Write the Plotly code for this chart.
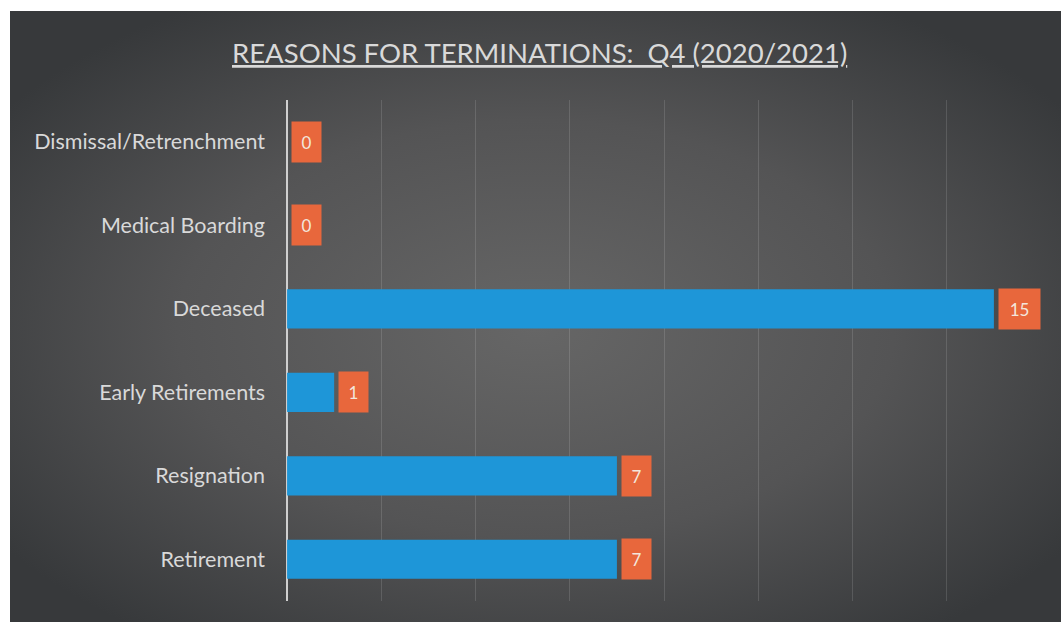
import base64
import plotly.graph_objects as go

categories = ["Dismissal/Retrenchment", "Medical Boarding", "Deceased",
              "Early Retirements", "Resignation", "Retirement"]
values = [0, 0, 15, 1, 7, 7]
x_ticks = [0, 2, 4, 6, 8, 10, 12, 14, 16]
title_text = "REASONS FOR TERMINATIONS:\u00a0 Q4 (2020/2021)"

FONT = "Lato"
BAR = "#1e96d8"
LABEL_BG = "#e8673c"
TEXT = "#d9d9d9"

svg = ("<svg xmlns='http://www.w3.org/2000/svg' width='1051' height='611' preserveAspectRatio='none'>"
       "<defs><radialGradient id='g' cx='50%' cy='52%' r='62%'>"
       "<stop offset='0' stop-color='#666666'/>"
       "<stop offset='0.55' stop-color='#545455'/>"
       "<stop offset='1' stop-color='#37393b'/>"
       "</radialGradient></defs>"
       "<rect width='1051' height='611' fill='url(#g)'/></svg>")
bg_src = "data:image/svg+xml;base64," + base64.b64encode(svg.encode()).decode()

fig = go.Figure()
fig.add_trace(go.Bar(
    x=values, y=categories, orientation="h",
    marker=dict(color=BAR, line=dict(width=0)),
    width=0.47, hoverinfo="x+y",
))

for c, v in zip(categories, values):
    s = str(v)
    fig.add_annotation(
        x=v, y=c, xref="x", yref="y", text=s, showarrow=False,
        xanchor="left", xshift=4, bgcolor=LABEL_BG,
        width=12 * len(s) + 15, height=38,
        font=dict(family=FONT, size=17, color="#f3e6dc"),
    )

fig.add_annotation(
    x=0.504, y=(622 - 52) / 611, xref="paper", yref="paper",
    text="<u>" + title_text + "</u>",
    showarrow=False, xanchor="center", yanchor="middle",
    font=dict(family=FONT, size=27.5, color=TEXT),
)

fig.update_layout(
    width=1061, height=622,
    margin=dict(l=10, r=0, t=11, b=0),
    paper_bgcolor="white",
    plot_bgcolor="rgba(0,0,0,0)",
    showlegend=False,
    images=[dict(source=bg_src, xref="paper", yref="paper", x=0, y=1,
                 sizex=1, sizey=1, xanchor="left", yanchor="top",
                 sizing="stretch", layer="below")],
    xaxis=dict(domain=[0.2636, 0.981], range=[0, 16], tickvals=x_ticks,
               showticklabels=False, showgrid=True,
               gridcolor="rgba(255,255,255,0.13)", gridwidth=1,
               zeroline=True, zerolinecolor="#cfcfcf", zerolinewidth=2,
               fixedrange=True),
    yaxis=dict(domain=[0.0344, 0.854], categoryorder="array",
               categoryarray=categories[::-1], showgrid=False,
               tickfont=dict(family=FONT, size=21.5, color=TEXT),
               ticklabelstandoff=21, fixedrange=True),
)

fig.write_html("out.html")
